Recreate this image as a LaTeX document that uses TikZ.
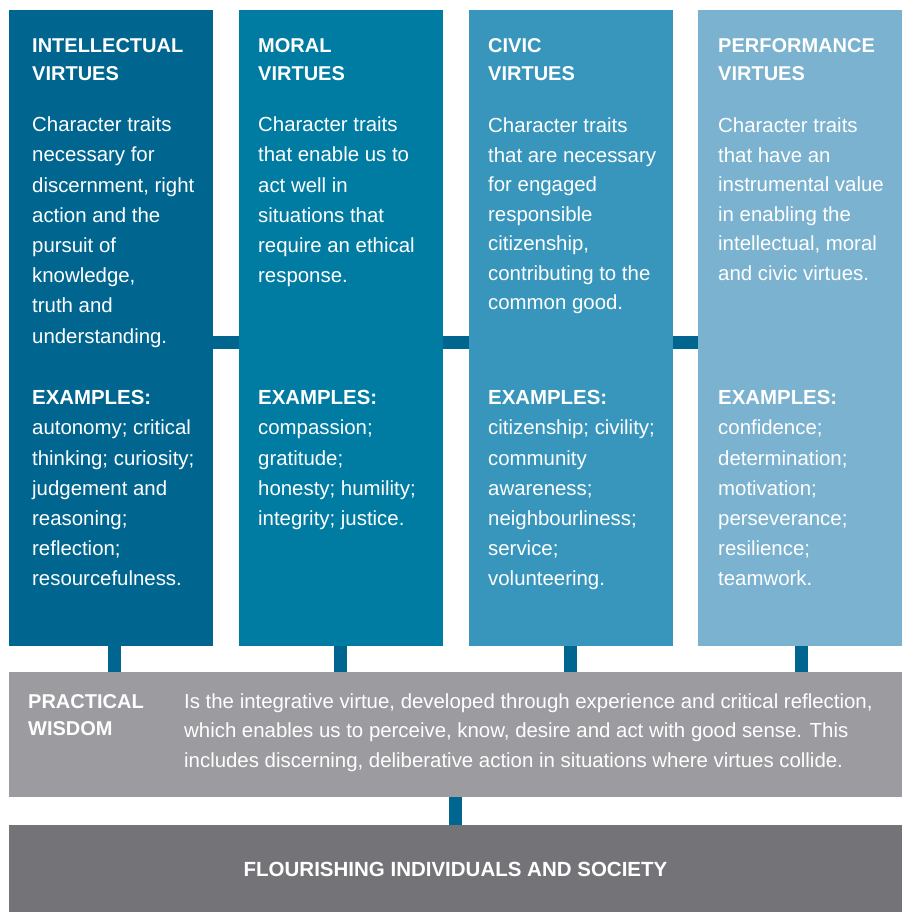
\documentclass[tikz,border=0pt]{standalone}
\usepackage{fontspec}
\setmainfont{Liberation Sans}
\definecolor{cA}{RGB}{0,102,143}
\definecolor{cB}{RGB}{0,124,163}
\definecolor{cC}{RGB}{56,150,188}
\definecolor{cD}{RGB}{122,178,208}
\definecolor{cLink}{RGB}{0,102,144}
\definecolor{cPW}{RGB}{156,155,160}
\definecolor{cFL}{RGB}{116,115,120}
\newcommand{\fs}{\rule{0pt}{20bp}}
\tikzset{
  colbox/.style={anchor=north west, inner sep=0pt, minimum width=204bp, minimum height=636bp},
  wbox/.style={anchor=north west, inner sep=0pt, minimum width=893bp},
  conn/.style={draw=cLink, line width=13bp, line cap=butt},
  ttl/.style={anchor=north west, inner sep=0pt, align=left, text=white,
    font=\fontsize{20bp}{27.5bp}\selectfont\bfseries},
  bod/.style={anchor=north west, inner sep=0pt, align=left, text=white,
    font=\fontsize{20.4bp}{30.2bp}\selectfont},
  bodn/.style={anchor=north west, inner sep=0pt, align=left, text=white,
    font=\fontsize{20.4bp}{29.5bp}\selectfont},
}
\begin{document}
\begin{tikzpicture}[x=1bp, y=-1bp]
\useasboundingbox (0,0) rectangle (906,912);
\coordinate (hc) at (0,342.5);
\coordinate (v1) at (114,0);
\coordinate (v2) at (340,0);
\coordinate (v3) at (570,0);
\coordinate (v4) at (801,0);
\coordinate (v5) at (455.5,0);
% boxes
\node[colbox, fill=cA] (col1) at (9,10) {};
\node[colbox, fill=cB] (col2) at (239,10) {};
\node[colbox, fill=cC] (col3) at (469,10) {};
\node[colbox, fill=cD] (col4) at (698,10) {};
\node[wbox, fill=cPW, minimum height=125bp] (pw) at (9,672) {};
\node[wbox, fill=cFL, minimum height=87bp] (fl) at (9,825) {};
% connectors
\draw[conn] (col1.east |- hc) -- (col2.west |- hc);
\draw[conn] (col2.east |- hc) -- (col3.west |- hc);
\draw[conn] (col3.east |- hc) -- (col4.west |- hc);
\draw[conn] (col1.south -| v1) -- (pw.north -| v1);
\draw[conn] (col2.south -| v2) -- (pw.north -| v2);
\draw[conn] (col3.south -| v3) -- (pw.north -| v3);
\draw[conn] (col4.south -| v4) -- (pw.north -| v4);
\draw[conn] (pw.south -| v5) -- (fl.north -| v5);
% column 1
\node[ttl] (t1) at (32,32.5) {\fs INTELLECTUAL\\VIRTUES};
\node[bod] (b1) at (32,111.5) {\fs Character traits\\necessary for\\discernment, right\\action and the\\pursuit of\\knowledge,\\truth and\\understanding.};
\node[bod] (e1) at (32,384.5) {\fs\textbf{EXAMPLES:}\\autonomy; critical\\thinking; curiosity;\\judgement and\\reasoning;\\reflection;\\resourcefulness.};
% column 2
\node[ttl] (t2) at (258,32.5) {\fs MORAL\\VIRTUES};
\node[bod] (b2) at (258,111.5) {\fs Character traits\\that enable us to\\act well in\\situations that\\require an ethical\\response.};
\node[bod] (e2) at (258,384.5) {\fs\textbf{EXAMPLES:}\\compassion;\\gratitude;\\honesty; humility;\\integrity; justice.};
% column 3
\node[ttl] (t3) at (488,32.5) {\fs CIVIC\\VIRTUES};
\node[bodn] (b3) at (488,112.5) {\fs Character traits\\that are necessary\\for engaged\\responsible\\citizenship,\\contributing to the\\common good.};
\node[bod] (e3) at (488,384.5) {\fs\textbf{EXAMPLES:}\\citizenship; civility;\\community\\awareness;\\neighbourliness;\\service;\\volunteering.};
% column 4
\node[ttl] (t4) at (718,32.5) {\fs PERFORMANCE\\VIRTUES};
\node[bodn] (b4) at (718,112.5) {\fs Character traits\\that have an\\instrumental value\\in enabling the\\intellectual, moral\\and civic virtues.};
\node[bod] (e4) at (718,384.5) {\fs\textbf{EXAMPLES:}\\confidence;\\determination;\\motivation;\\perseverance;\\resilience;\\teamwork.};
% practical wisdom
\node[ttl, font=\fontsize{20bp}{27bp}\selectfont\bfseries] (tp) at (28,688.3) {\fs PRACTICAL\\WISDOM};
\node[bodn] (bp) at (184,688) {\fs Is the integrative virtue, developed through experience and critical reflection,\\which enables us to perceive, know, desire and act with good sense. This\\includes discerning, deliberative action in situations where virtues collide.};
% flourishing
\node[anchor=base, inner sep=0pt, text=white, font=\fontsize{20.5bp}{24bp}\selectfont\bfseries] (tf) at (455.5,876.5) {FLOURISHING INDIVIDUALS AND SOCIETY};
\end{tikzpicture}
\end{document}
